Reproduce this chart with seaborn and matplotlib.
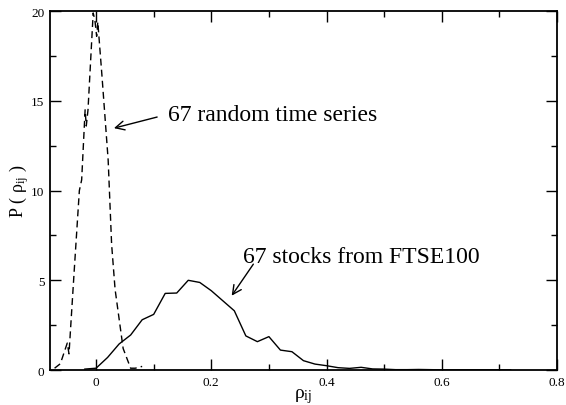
import matplotlib
matplotlib.use("Agg")
import matplotlib.pyplot as plt
import seaborn as sns
import pandas as pd
from matplotlib.ticker import MultipleLocator

# random time series correlation distribution (dashed)
rand_x = [-0.072, -0.062, -0.050, -0.047, -0.038, -0.029, -0.025, -0.019, -0.017, -0.014,
          -0.005, -0.002, 0.001, 0.003, 0.010, 0.021, 0.027, 0.033, 0.047, 0.060, 0.068, 0.080]
rand_y = [0.1, 0.35, 1.5, 0.9, 5.5, 10.0, 10.6, 14.5, 13.6, 14.5,
          19.9, 19.5, 18.6, 19.4, 16.5, 11.7, 7.0, 4.5, 1.2, 0.1, 0.1, 0.2]

# FTSE100 stock correlation distribution (solid)
stock_x = [-0.02, 0.00, 0.02, 0.04, 0.06, 0.08, 0.10, 0.12, 0.14, 0.16, 0.18, 0.20,
           0.22, 0.24, 0.26, 0.28, 0.30, 0.32, 0.34, 0.36, 0.38, 0.40, 0.42, 0.44,
           0.46, 0.48, 0.50, 0.52, 0.54, 0.56, 0.58, 0.60, 0.62, 0.64, 0.66, 0.68,
           0.70, 0.72]
stock_y = [0.05, 0.1, 0.7, 1.45, 1.95, 2.8, 3.1, 4.27, 4.29, 5.0, 4.88, 4.42,
           3.86, 3.3, 1.9, 1.58, 1.86, 1.11, 1.02, 0.52, 0.33, 0.24, 0.13, 0.09,
           0.15, 0.06, 0.05, 0.02, 0.02, 0.03, 0.02, 0.01, 0.01, 0.01, 0.01, 0.01,
           0.01, 0.01]

xtick_vals = [0, 0.2, 0.4, 0.6, 0.8]
xtick_labels = ["0", "0.2", "0.4", "0.6", "0.8"]
label_rand = "67 random time series"
label_stock = "67 stocks from FTSE100"

sns.set_style("ticks")
plt.rcParams["font.family"] = ["Liberation Serif", "DejaVu Serif"]
plt.rcParams["mathtext.fontset"] = "custom"
plt.rcParams["mathtext.rm"] = "Liberation Serif"
plt.rcParams["mathtext.it"] = "Liberation Serif:italic"
for k in ["text.color", "axes.labelcolor", "axes.edgecolor", "xtick.color", "ytick.color"]:
    plt.rcParams[k] = "black"

fig = plt.figure(figsize=(5.66, 4.06), dpi=100)
ax = fig.add_axes([0.0883, 0.0862, 0.8957, 0.8838])

df_r = pd.DataFrame({"x": rand_x, "y": rand_y})
df_s = pd.DataFrame({"x": stock_x, "y": stock_y})
sns.lineplot(data=df_r, x="x", y="y", ax=ax, color="black", linewidth=1.0,
             sort=False, estimator=None)
ax.lines[-1].set_dashes((5, 3))
sns.lineplot(data=df_s, x="x", y="y", ax=ax, color="black", linewidth=1.0,
             sort=False, estimator=None)

ax.set_xticks(xtick_vals)
ax.set_xticklabels(xtick_labels)
ax.xaxis.set_minor_locator(MultipleLocator(0.1))
ax.yaxis.set_major_locator(MultipleLocator(5))
ax.yaxis.set_minor_locator(MultipleLocator(2.5))
ax.set_xlim(-0.08, 0.8)
ax.set_ylim(0, 20)
ax.tick_params(which="both", direction="in", top=True, right=True, labelsize=9.5,
               width=1.0, pad=4, colors="black")
ax.tick_params(which="major", length=8)
ax.tick_params(which="minor", length=4)
for s in ax.spines.values():
    s.set_linewidth(1.3)
    s.set_visible(True)
    s.set_color("black")

ax.set_xlabel(r"ρ$_{\mathrm{ij}}$", fontsize=14, labelpad=-1)
ax.set_ylabel(r"P ( ρ$_{\mathrm{ij}}$ )", fontsize=13, labelpad=0)

ax.text(0.125, 13.93, label_rand, fontsize=17, ha="left", va="baseline")
ax.annotate("", xy=(0.031, 13.48), xytext=(0.106, 14.1),
            arrowprops=dict(arrowstyle="->", color="black", lw=1.0,
                            shrinkA=0, shrinkB=0, mutation_scale=16))
ax.text(0.255, 6.02, label_stock, fontsize=17, ha="left", va="baseline")
ax.annotate("", xy=(0.2354, 4.14), xytext=(0.273, 5.9),
            arrowprops=dict(arrowstyle="->", color="black", lw=1.0,
                            shrinkA=0, shrinkB=0, mutation_scale=16))

fig.savefig("out.png", dpi=100)
